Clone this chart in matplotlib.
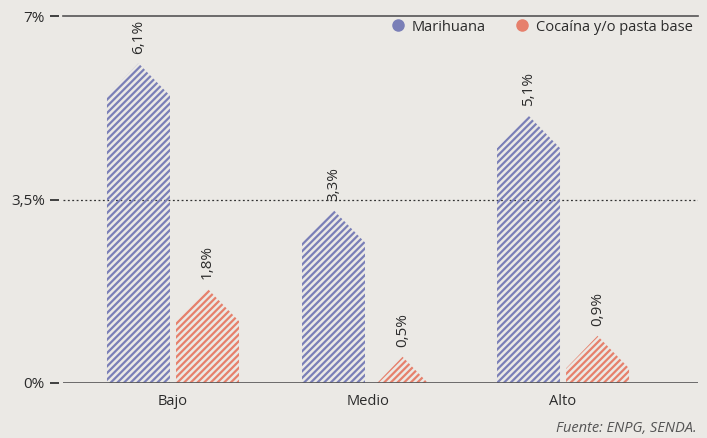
import matplotlib.pyplot as plt
from matplotlib.lines import Line2D

# datos
categorias = ['Bajo', 'Medio', 'Alto']
marihuana = [6.1, 3.3, 5.1]
cocaina = [1.8, 0.5, 0.9]
series = ['Marihuana', 'Cocaína y/o pasta base']
yticks = [0, 3.5, 7]
ytick_labels = ['0%', '3,5%', '7%']

AZUL = '#7a7fb7'
NARANJA = '#e6806c'
FONDO = '#ebe9e5'
TEXTO = '#2b2b2b'

plt.rcParams['font.family'] = ['Open Sans', 'DejaVu Sans']
plt.rcParams['hatch.linewidth'] = 1.6

ANCHO = 0.323      # ancho de barra (unidades x)
TECHO = 0.62       # altura del "techo" (unidades y)


def casita(ax, xc, v, color):
    """Barra con forma de casa (pentágono) rellena con trama."""
    half = ANCHO / 2
    if v >= TECHO:
        xs = [xc - half, xc - half, xc, xc + half, xc + half]
        ys = [0, v - TECHO, v, v - TECHO, 0]
    else:
        k = v / TECHO * half
        xs = [xc - k, xc, xc + k]
        ys = [0, v, 0]
    ax.fill(xs, ys, facecolor='none', edgecolor=color, hatch='/////', lw=0, zorder=3)


fig = plt.figure(figsize=(7.07, 4.38), dpi=100, facecolor=FONDO)
ax = fig.add_axes([63 / 707, 1 - 383 / 438, 635 / 707, 367 / 438])
ax.set_facecolor(FONDO)

ax.set_xlim(-0.564, 2.692)
ax.set_ylim(0, 7)

for i, (m, c) in enumerate(zip(marihuana, cocaina)):
    for off, v, col in [(-0.177, m, AZUL), (0.177, c, NARANJA)]:
        casita(ax, i + off, v, col)
        ax.text(i + off, v + 0.18, f'{v:.1f}%'.replace('.', ','), rotation=90,
                ha='center', va='bottom', fontsize=11, color=TEXTO)

ax.axhline(0, color='#555555', lw=1.2, zorder=4)
ax.axhline(7, color='#555555', lw=1.2, zorder=4, clip_on=False)
ax.axhline(3.5, color='#333333', lw=0.9, ls=(0, (1.5, 2)), zorder=2)

for s in ax.spines.values():
    s.set_visible(False)
ax.spines['left'].set_position(('outward', 3))

ax.set_yticks(yticks)
ax.set_yticklabels(ytick_labels)
ax.tick_params(axis='y', length=6.5, width=1.3, color='#333333', pad=3.5,
               labelsize=11, labelcolor=TEXTO)
ax.set_xticks(range(len(categorias)))
ax.set_xticklabels(categorias)
ax.tick_params(axis='x', length=0, pad=8, labelsize=10.5, labelcolor=TEXTO)

handles = [Line2D([], [], ls='none', marker='o', ms=8, color=AZUL),
           Line2D([], [], ls='none', marker='o', ms=8, color=NARANJA)]
ax.legend(handles, series, ncol=2, frameon=False, loc='center right',
          bbox_to_anchor=(1.003, 0.97), fontsize=10.5, handletextpad=0.45,
          columnspacing=1.95, borderpad=0, handlelength=1,
          labelcolor=TEXTO)

fig.text(697 / 707, 1 - 428 / 438, 'Fuente: ENPG, SENDA.', ha='right', va='center',
         fontsize=10.5, style='italic', color='#555555')

fig.savefig('out.png', dpi=100, facecolor=FONDO)
